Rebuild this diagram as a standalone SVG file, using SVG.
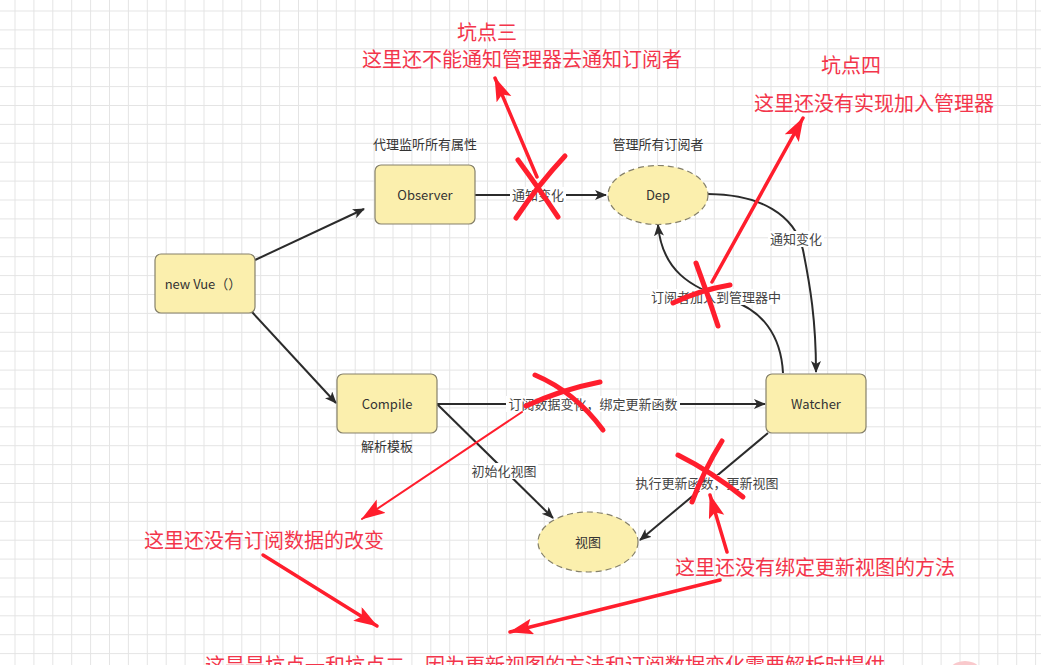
<svg xmlns="http://www.w3.org/2000/svg" width="1041" height="665" viewBox="0 0 1041 665">
<style>
.node{fill:#fbefad;stroke:#85806a;stroke-width:1.2}
.dash{stroke-dasharray:6 4}
.nt{font-family:"Noto Sans CJK SC","Liberation Sans",sans-serif;font-size:13px;fill:#333;text-anchor:middle}
.el{font-family:"Noto Sans CJK SC",sans-serif;font-size:13px;fill:#444;text-anchor:middle}
.lbg{fill:#fff}
.edge{fill:none;stroke:#2b2b2b;stroke-width:2;marker-end:url(#ah)}
.rt{font-family:"Noto Sans CJK SC",sans-serif;font-size:20px;fill:#f3354b}
.rx{fill:none;stroke:#ff1e2d;stroke-width:5;stroke-linecap:round}
.ra{fill:none;stroke:#ff1e2d;stroke-width:3.5;stroke-linecap:round;marker-end:url(#rh)}
</style>
<defs>
<pattern id="grid" patternUnits="userSpaceOnUse" x="14.5" y="10.5" width="18.9" height="18.9">
<rect x="0" y="0" width="18.9" height="1" fill="#e4e4e4"/>
<rect x="0" y="0" width="1" height="18.9" fill="#e4e4e4"/>
</pattern>
<marker id="ah" markerUnits="userSpaceOnUse" markerWidth="13" markerHeight="11" refX="11" refY="5" orient="auto">
<path d="M0,0 L12,5 L0,10 L3,5 z" fill="#2b2b2b"/>
</marker>
<marker id="rh" markerUnits="userSpaceOnUse" markerWidth="26" markerHeight="18" refX="23" refY="8" orient="auto">
<path d="M0,0 L24,8 L0,16 L5,8 z" fill="#ff1e2d"/>
</marker>
</defs>
<rect width="1041" height="665" fill="#fff"/>
<rect width="1041" height="665" fill="url(#grid)"/>

<g id="connectors">
<path class="edge" d="M255,260 L364,209"/>
<path class="edge" d="M252,312 L336,403"/>
<path class="edge" d="M475,195 L606,195"/>
<path class="edge" d="M708,194 C760,194 795,215 803,250 C810,285 816,320 816,372"/>
<path class="edge" d="M783,373 C781,335 762,310 730,300 C690,288 662,270 658,225"/>
<path class="edge" d="M437,404 L765,404"/>
<path class="edge" d="M437,404 L553,518"/>
<path class="edge" d="M768,433 L640,540"/>
<rect class="lbg" x="510" y="187" width="56" height="16"/>
<text class="el" x="538" y="199.5">通知变化</text>
<rect class="lbg" x="768" y="231" width="56" height="16"/>
<text class="el" x="796" y="243.5">通知变化</text>
<rect class="lbg" x="650" y="289" width="132" height="16"/>
<text class="el" x="716" y="301.5">订阅者加入到管理器中</text>
<rect class="lbg" x="506" y="396" width="174" height="16"/>
<text class="el" x="593" y="408.5">订阅数据变化，绑定更新函数</text>
<rect class="lbg" x="470" y="463" width="68" height="16"/>
<text class="el" x="504" y="475.5">初始化视图</text>
<rect class="lbg" x="635" y="475" width="145" height="16"/>
<text class="el" x="707" y="487.5">执行更新函数，更新视图</text>
</g>

<g id="node-newvue">
<rect class="node" x="155" y="254" width="100" height="59" rx="6"/>
<text class="nt" x="203" y="288.5">new Vue（）</text>
</g>
<g id="node-observer">
<text class="nt" x="425" y="149">代理监听所有属性</text>
<rect class="node" x="375" y="165" width="100" height="59" rx="6"/>
<text class="nt" x="425" y="199.5">Observer</text>
</g>
<g id="node-dep">
<text class="nt" x="658" y="149">管理所有订阅者</text>
<ellipse class="node dash" cx="658" cy="195" rx="50" ry="29.5"/>
<text class="nt" x="658" y="199.5">Dep</text>
</g>
<g id="node-compile">
<rect class="node" x="337" y="374" width="100" height="59" rx="6"/>
<text class="nt" x="387" y="408.5">Compile</text>
<text class="nt" x="387" y="451">解析模板</text>
</g>
<g id="node-watcher">
<rect class="node" x="766" y="374" width="100" height="59" rx="6"/>
<text class="nt" x="816" y="408.5">Watcher</text>
</g>
<g id="node-view">
<ellipse class="node dash" cx="588" cy="542" rx="50" ry="30"/>
<text class="nt" x="588" y="546.5">视图</text>
</g>

<g id="annotations">
<text class="rt" x="487" y="40" text-anchor="middle">坑点三</text>
<text class="rt" x="522" y="67" text-anchor="middle">这里还不能通知管理器去通知订阅者</text>
<text class="rt" x="851" y="73" text-anchor="middle">坑点四</text>
<text class="rt" x="874" y="111" text-anchor="middle">这里还没有实现加入管理器</text>
<text class="rt" x="264" y="548" text-anchor="middle">这里还没有订阅数据的改变</text>
<text class="rt" x="815" y="575" text-anchor="middle">这里还没有绑定更新视图的方法</text>
<text class="rt" x="205" y="673">这是是坑点一和坑点二，因为更新视图的方法和订阅数据变化需要解析时提供</text>

<path class="rx" d="M518,160 Q540,190 558,217"/>
<path class="rx" d="M565,156 Q538,185 516,218"/>
<path class="rx" d="M696,263 Q708,295 718,326"/>
<path class="rx" d="M673,303 Q700,290 730,285"/>
<path class="rx" d="M535,375 Q575,392 603,430"/>
<path class="rx" d="M600,382 Q560,390 526,406"/>
<path class="rx" d="M678,455 Q712,472 743,497"/>
<path class="rx" d="M722,441 Q704,470 692,502"/>

<path class="ra" d="M537,177 L495,78"/>
<path class="ra" d="M712,282 L803,118"/>
<path class="ra" style="stroke-width:2" d="M522,412 L362,519"/>
<path class="ra" d="M727,552 L710,495"/>
<path class="ra" d="M263,555 L377,626"/>
<path class="ra" d="M720,580 L510,632"/>
<circle cx="965" cy="682" r="21" fill="#f9c9cc"/>
</g>
</svg>
